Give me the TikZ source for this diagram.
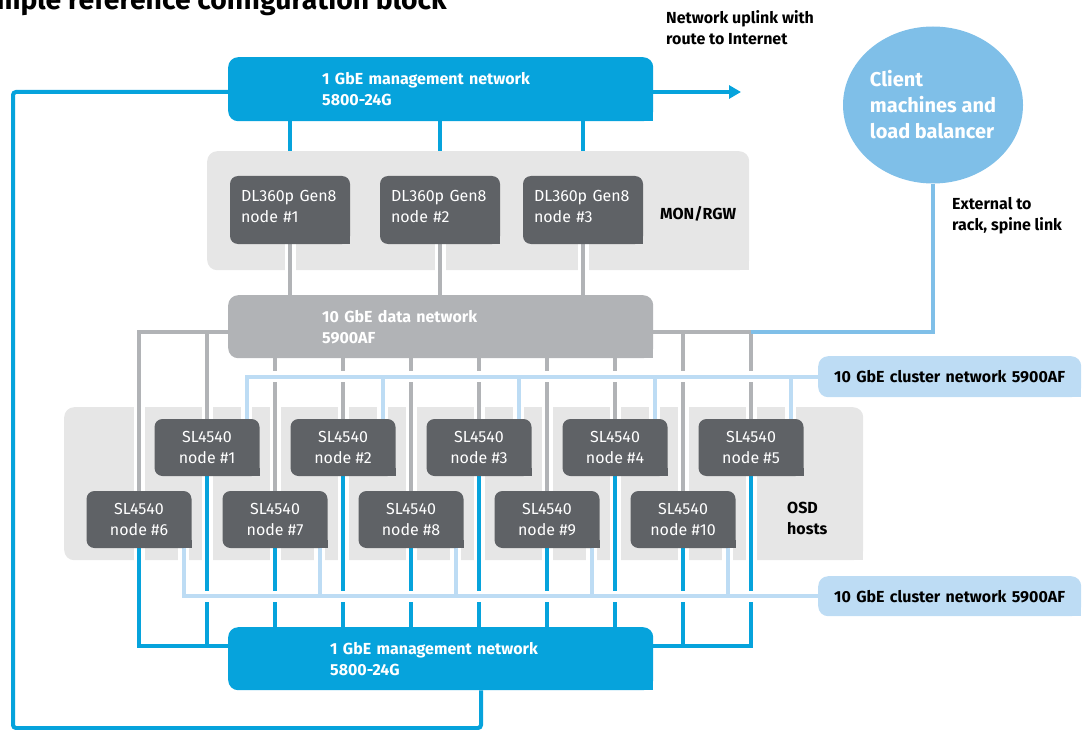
\documentclass[tikz,border=0pt]{standalone}
\usepackage{fontspec}
\setmainfont{Fira Sans}
\usetikzlibrary{arrows.meta,calc,shapes.geometric}
\definecolor{hpblue}{HTML}{06A3DC}
\definecolor{netgray}{HTML}{B1B3B6}
\definecolor{nodegray}{HTML}{5F6266}
\definecolor{bggray}{HTML}{E6E6E6}
\definecolor{clblue}{HTML}{BDDCF4}
\definecolor{cliblue}{HTML}{7FBFE8}
\pgfdeclarelayer{under}
\pgfdeclarelayer{panel}
\pgfdeclarelayer{wires}
\pgfsetlayers{under,panel,wires,main}
\begin{document}
\begin{tikzpicture}[x=1pt,y=-1pt,
  netbox/.style={rounded corners=10pt, minimum width=425pt, minimum height=64pt,
    inner xsep=#1, text width=425pt-2*#1, align=left, inner ysep=0pt,
    font=\fontsize{16}{21}\selectfont\bfseries, text=white, anchor=north west},
  dlnode/.style={rounded corners=8pt, fill=nodegray, minimum width=120pt, minimum height=68pt,
    inner xsep=11pt, text width=98pt, align=left, inner ysep=0pt, text depth=29pt,
    font=\fontsize{16}{21}\selectfont, text=white},
  slnode/.style={rounded corners=8pt, fill=nodegray, minimum width=105pt, minimum height=57pt,
    inner sep=0pt, align=center, font=\fontsize{16}{21}\selectfont, text=white},
  panelbox/.style={rounded corners=10pt, fill=bggray, anchor=north west, inner sep=0pt},
  cllabel/.style={rounded corners=10pt, fill=clblue, anchor=north west, minimum width=263pt,
    minimum height=41pt, inner xsep=16pt, text width=231pt, align=left, inner ysep=0pt,
    font=\fontsize{16}{21}\selectfont\bfseries, text=black},
  blabel/.style={anchor=west, align=left, inner sep=0pt,
    font=\fontsize{16}{21}\selectfont\bfseries, text=black},
  cased/.style={draw=white, double=#1, double distance=4pt, line width=3.5pt},
  plain/.style={draw=#1, line width=4pt}
]
\useasboundingbox (0,0) rectangle (1086,730);
\clip (0,0) rectangle (1086,730);

% title (cut at the top-left edge, as in the reference)
\node[anchor=base east, inner sep=0pt, font=\fontsize{28.3}{32}\selectfont\bfseries] (title)
  at (447,9.5) {Sample reference configuration block};

% panels
\begin{pgfonlayer}{panel}
\node[panelbox, minimum width=542pt, minimum height=119pt] (monbg) at (207,151) {};
\node[panelbox, minimum width=799pt, minimum height=153pt] (osdbg) at (64,407) {};
\end{pgfonlayer}

% network boxes
\node[netbox=94pt, fill=hpblue] (mgtop) at (228,57) {1 GbE management network\\5800-24G};
\node[netbox=94pt, fill=netgray, minimum height=63pt] (data) at (228,295) {10 GbE data network\\5900AF};
\node[netbox=102pt, fill=hpblue, minimum height=63pt] (mgbot) at (228,627) {1 GbE management network\\5800-24G};

% MON/RGW nodes
\node[dlnode] (d1) at (290,210) {DL360p Gen8\\node \#1};
\node[dlnode] (d2) at (440,210) {DL360p Gen8\\node \#2};
\node[dlnode] (d3) at (583,210) {DL360p Gen8\\node \#3};
\node[blabel] (mon) at (660,214) {MON/RGW};

% OSD nodes
\node[slnode] (s1) at (207,447.5) {SL4540\\node \#1};
\node[slnode] (s2) at (343,447.5) {SL4540\\node \#2};
\node[slnode] (s3) at (479,447.5) {SL4540\\node \#3};
\node[slnode] (s4) at (615,447.5) {SL4540\\node \#4};
\node[slnode] (s5) at (751,447.5) {SL4540\\node \#5};
\node[slnode] (s6) at (139,519.5) {SL4540\\node \#6};
\node[slnode] (s7) at (275,519.5) {SL4540\\node \#7};
\node[slnode] (s8) at (411,519.5) {SL4540\\node \#8};
\node[slnode] (s9) at (547,519.5) {SL4540\\node \#9};
\node[slnode] (s10) at (683,519.5) {SL4540\\node \#10};
\node[blabel] (osd) at (787,518) {OSD\\hosts};

% cluster labels
\node[cllabel] (cl1) at (818,356) {10 GbE cluster network 5900AF};
\node[cllabel, minimum height=40pt] (cl2) at (818,576) {10 GbE cluster network 5900AF};

% client
\node[ellipse, fill=cliblue, minimum width=180pt, minimum height=157pt, inner sep=0pt,
  align=left, text=white, font=\fontsize{20}{26}\selectfont\bfseries] (client)
  at (933,105) {Client\\machines and\\load balancer};

% text labels
\node[blabel] (uplinktxt) at (666,27.5) {Network uplink with\\route to Internet};
\node[blabel] (exttxt) at (952,215.5) {External to\\rack, spine link};

% square bottom-right corners
\foreach \n/\c/\r in {mgtop/hpblue/10, data/netgray/10, mgbot/hpblue/10,
  cl1/clblue/10, cl2/clblue/10,
  d1/nodegray/8, d2/nodegray/8, d3/nodegray/8,
  s1/nodegray/8, s2/nodegray/8, s3/nodegray/8, s4/nodegray/8, s5/nodegray/8,
  s6/nodegray/8, s7/nodegray/8, s8/nodegray/8, s9/nodegray/8, s10/nodegray/8}{
  \fill[\c] ([xshift=-\r pt,yshift=\r pt]\n.south east) rectangle (\n.south east);
}
\begin{pgfonlayer}{panel}
\foreach \n in {monbg,osdbg}{
  \fill[bggray] ([xshift=-10pt,yshift=10pt]\n.south east) rectangle (\n.south east);
}
\end{pgfonlayer}

% coordinates
\coordinate (mtl) at ($(mgtop.north west)+(0,35)$);
\coordinate (mtr) at ($(mgtop.north east)+(0,35)$);
\coordinate (uplink) at (741,92);
\coordinate (lpA) at (13,728);
\coordinate (lpB) at (481,728);
\coordinate (dl) at ($(data.north west)+(0,37)$);
\coordinate (dr) at ($(data.north east)+(0,37)$);
\coordinate (mbl) at ($(mgbot.north west)+(0,19)$);
\coordinate (mbr) at ($(mgbot.north east)+(0,19)$);
\foreach \i in {1,...,5}{\coordinate (t\i) at ([xshift=-13pt]s\i.north east);}
\foreach \i in {6,...,10}{\coordinate (b\i) at ([xshift=-8pt]s\i.south east);}

% management links to MON nodes (behind panel)
\begin{pgfonlayer}{under}
\foreach \d in {d1,d2,d3}{\draw[plain=hpblue] (\d.north |- mgtop.south) -- (\d.north);}
\end{pgfonlayer}

\begin{pgfonlayer}{wires}
% data network
\foreach \d in {d1,d2,d3}{\draw[cased=netgray] (\d.south) -- (\d.south |- data.north);}
\draw[cased=netgray] (dl) -| (s6.north) (s1.north |- dl) -- (s1.north);
\draw[cased=netgray] (dr) -| (s5.north) (s10.north |- dr) -- (s10.north);
\foreach \s in {s7,s2,s8,s3,s9,s4}{\draw[cased=netgray] (\s.north |- data.south) -- (\s.north);}
% client spine link
\draw[plain=cliblue] (client.south) -- (client.south |- dr) -- (s5.north |- dr);
% cluster network top
\draw[cased=clblue] (cl1.west) -| (t1) (t2 |- cl1.west) -- (t2) (t3 |- cl1.west) -- (t3)
  (t4 |- cl1.west) -- (t4) (t5 |- cl1.west) -- (t5);
% management network bottom
\draw[cased=hpblue] (s6.south) |- (mbl) (s1.south) -- (s1.south |- mbl);
\draw[cased=hpblue] (s5.south) |- (mbr) (s10.south) -- (s10.south |- mbr);
\foreach \s in {s7,s2,s8,s3,s9,s4}{\draw[cased=hpblue] (\s.south) -- (\s.south |- mgbot.north);}
% cluster network bottom
\draw[cased=clblue] (cl2.west) -| (b6) (b7 |- cl2.west) -- (b7) (b8 |- cl2.west) -- (b8)
  (b9 |- cl2.west) -- (b9) (b10 |- cl2.west) -- (b10);
% uplink and loop
\draw[plain=hpblue, -{Triangle[length=12pt,width=13pt]}] (mtr) -- (uplink);
\draw[plain=hpblue, rounded corners=3pt] (mtl) -| (lpA) -- (lpB) -- (lpB |- mgbot.south);
\end{pgfonlayer}
\end{tikzpicture}
\end{document}
